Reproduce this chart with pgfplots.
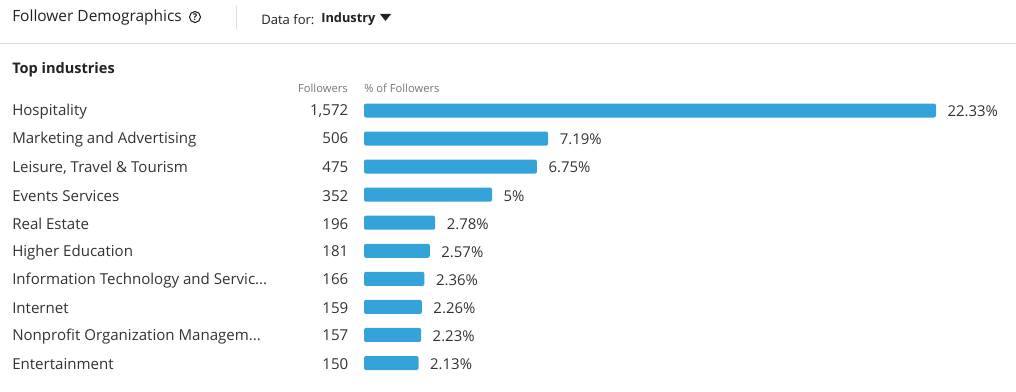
\documentclass[border=0pt]{standalone}
\usepackage{fontspec}
\setmainfont{Open Sans}
\usepackage{pgfplots}
\pgfplotsset{compat=1.18}
\definecolor{barblue}{HTML}{33A3DA}
\definecolor{txt}{HTML}{333333}
\definecolor{head}{HTML}{222222}
\definecolor{sub}{HTML}{777777}
\definecolor{rulec}{HTML}{DDDDDD}
\newcommand\lab[2]{\hbox to 252pt{#1\hfill #2}}
\begin{document}
\begin{tikzpicture}[x=0.75pt,y=-0.75pt]
\path[use as bounding box, fill=white] (0,0) rectangle (1016,392);
\coordinate (A) at (364,110.5);
% header
\node[anchor=west, inner sep=0pt, text=head, font=\fontsize{11.6pt}{13pt}\selectfont] at (12,17.5) {Follower Demographics};
\draw[head, line width=0.8pt] (195,17) circle (5.5);
\node[inner sep=0pt, text=head, font=\fontsize{7pt}{8pt}\selectfont\bfseries] at (195,17.3) {?};
\draw[rulec, line width=0.75pt] (236,6) -- (236,29);
\node[anchor=west, inner sep=0pt, text=head, font=\fontsize{9.8pt}{12pt}\selectfont] at (261,19.5) {Data for:};
\node[anchor=west, inner sep=0pt, text=head, font=\fontsize{9.6pt}{12pt}\selectfont\bfseries] at (321,19.5) {Industry};
\fill[head] (380,14) -- (391,14) -- (385.5,21) -- cycle;
\draw[rulec, line width=0.75pt] (0,43.5) -- (1016,43.5);
\node[anchor=west, inner sep=0pt, text=head, font=\fontsize{10.9pt}{13pt}\selectfont\bfseries] at (12,69.5) {Top industries};
\node[anchor=east, inner sep=0pt, text=sub, font=\fontsize{8.4pt}{9pt}\selectfont] at (348,88.5) {Followers};
\node[anchor=west, inner sep=0pt, text=sub, font=\fontsize{8.4pt}{9pt}\selectfont] at (364,88.5) {\% of Followers};
\begin{axis}[
  at={(A)}, anchor=north west,
  scale only axis, width=429pt, height=189.4pt,
  xmin=0, xmax=22.33, ymin=0, ymax=9,
  y dir=reverse,
  axis line style={draw=none},
  major tick length=0pt,
  xtick=\empty,
  ytick={0,...,9},
  yticklabels={
    {\lab{Hospitality}{1,572}},
    {\lab{Marketing and Advertising}{506}},
    {\lab{Leisure, Travel \& Tourism}{475}},
    {\lab{Events Services}{352}},
    {\lab{Real Estate}{196}},
    {\lab{Higher Education}{181}},
    {\lab{Information Technology and Servic...}{166}},
    {\lab{Internet}{159}},
    {\lab{Nonprofit Organization Managem...}{157}},
    {\lab{Entertainment}{150}}},
  yticklabel style={anchor=west, inner sep=0pt, xshift=-264pt, yshift=-1pt, text=txt, font=\fontsize{11.3pt}{13pt}\selectfont},
  clip=false,
  xbar, bar width=10.5pt,
  nodes near coords, point meta=explicit symbolic,
  every node near coord/.append style={anchor=west, inner sep=0pt, xshift=8.5pt, yshift=-0.75pt, text=txt, font=\fontsize{11.2pt}{13pt}\selectfont},
]
\addplot[fill=barblue, draw=none, rounded corners=1.5pt] coordinates {
 (22.33,0) [22.33\%]
 (7.19,1) [7.19\%]
 (6.75,2) [6.75\%]
 (5,3) [5\%]
 (2.78,4) [2.78\%]
 (2.57,5) [2.57\%]
 (2.36,6) [2.36\%]
 (2.26,7) [2.26\%]
 (2.23,8) [2.23\%]
 (2.13,9) [2.13\%]
};
\end{axis}
\end{tikzpicture}
\end{document}
